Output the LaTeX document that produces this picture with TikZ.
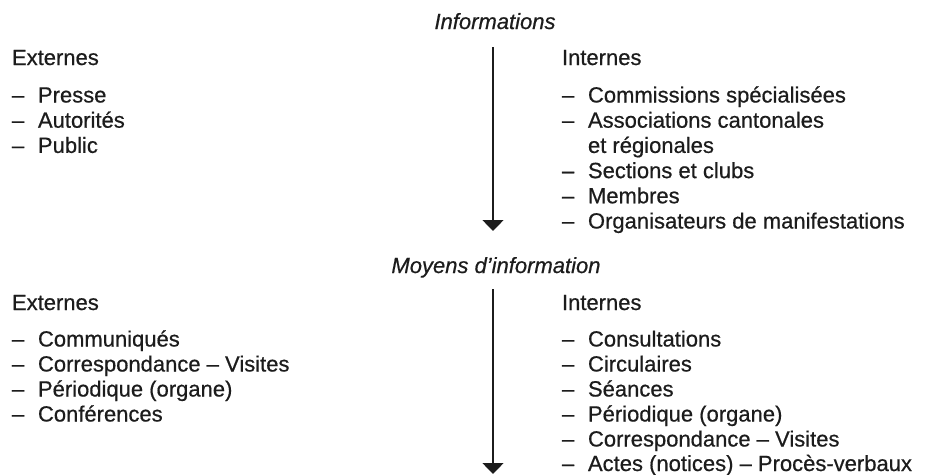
\documentclass[tikz,border=0pt]{standalone}
\usepackage{fontspec}
\setmainfont{Liberation Sans}[FakeBold=0.6]
\usetikzlibrary{arrows.meta}
\definecolor{ink}{HTML}{1C1C1C}
\newcommand\itd{\makebox[26pt][l]{–}}
\tikzset{
  txt/.style={anchor=base west, inner sep=0pt, outer sep=0pt, text=ink, font=\fontsize{22}{26}\selectfont},
  head/.style={anchor=base, inner sep=0pt, text=ink, font=\fontsize{22}{26}\selectfont\itshape},
  flow/.style={draw=ink, line width=1.5pt, -{Triangle[width=21pt,length=11pt]}}
}
\begin{document}
\begin{tikzpicture}[x=1pt,y=-1pt]
\useasboundingbox (0,0) rectangle (934,474);
% ---- Informations ----
\node[head] (h1) at (495,29) {Informations};
\coordinate (a1s) at (493,47);
\coordinate (a1e) at (493,231);
\draw[flow] (a1s) -- (a1e);
\node[txt] (ex1) at (12,65) {Externes};
\node[txt] (ex1a) at (12,102.5) {\itd Presse};
\node[txt] (ex1b) at (12,127.7) {\itd Autorités};
\node[txt] (ex1c) at (12,152.9) {\itd Public};
\node[txt] (in1) at (562,65) {Internes};
\node[txt] (in1a) at (562,102.5) {\itd Commissions spécialisées};
\node[txt] (in1b) at (562,127.7) {\itd Associations cantonales};
\node[txt] (in1c) at (588,152.9) {et régionales};
\node[txt] (in1d) at (562,178.1) {\itd Sections et clubs};
\node[txt] (in1e) at (562,203.3) {\itd Membres};
\node[txt] (in1f) at (562,228.5) {\itd Organisateurs de manifestations};
% ---- Moyens d'information ----
\node[head] (h2) at (496,273) {Moyens d’information};
\coordinate (a2s) at (493,289);
\coordinate (a2e) at (493,474);
\draw[flow] (a2s) -- (a2e);
\node[txt] (ex2) at (12,310) {Externes};
\node[txt] (ex2a) at (12,346.5) {\itd Communiqués};
\node[txt] (ex2b) at (12,371.5) {\itd Correspondance – Visites};
\node[txt] (ex2c) at (12,396.5) {\itd Périodique (organe)};
\node[txt] (ex2d) at (12,421.5) {\itd Conférences};
\node[txt] (in2) at (562,310) {Internes};
\node[txt] (in2a) at (562,346.5) {\itd Consultations};
\node[txt] (in2b) at (562,371.5) {\itd Circulaires};
\node[txt] (in2c) at (562,396.5) {\itd Séances};
\node[txt] (in2d) at (562,421.5) {\itd Périodique (organe)};
\node[txt] (in2e) at (562,446.5) {\itd Correspondance – Visites};
\node[txt] (in2f) at (562,471) {\itd Actes (notices) – Procès-verbaux};
\end{tikzpicture}
\end{document}
